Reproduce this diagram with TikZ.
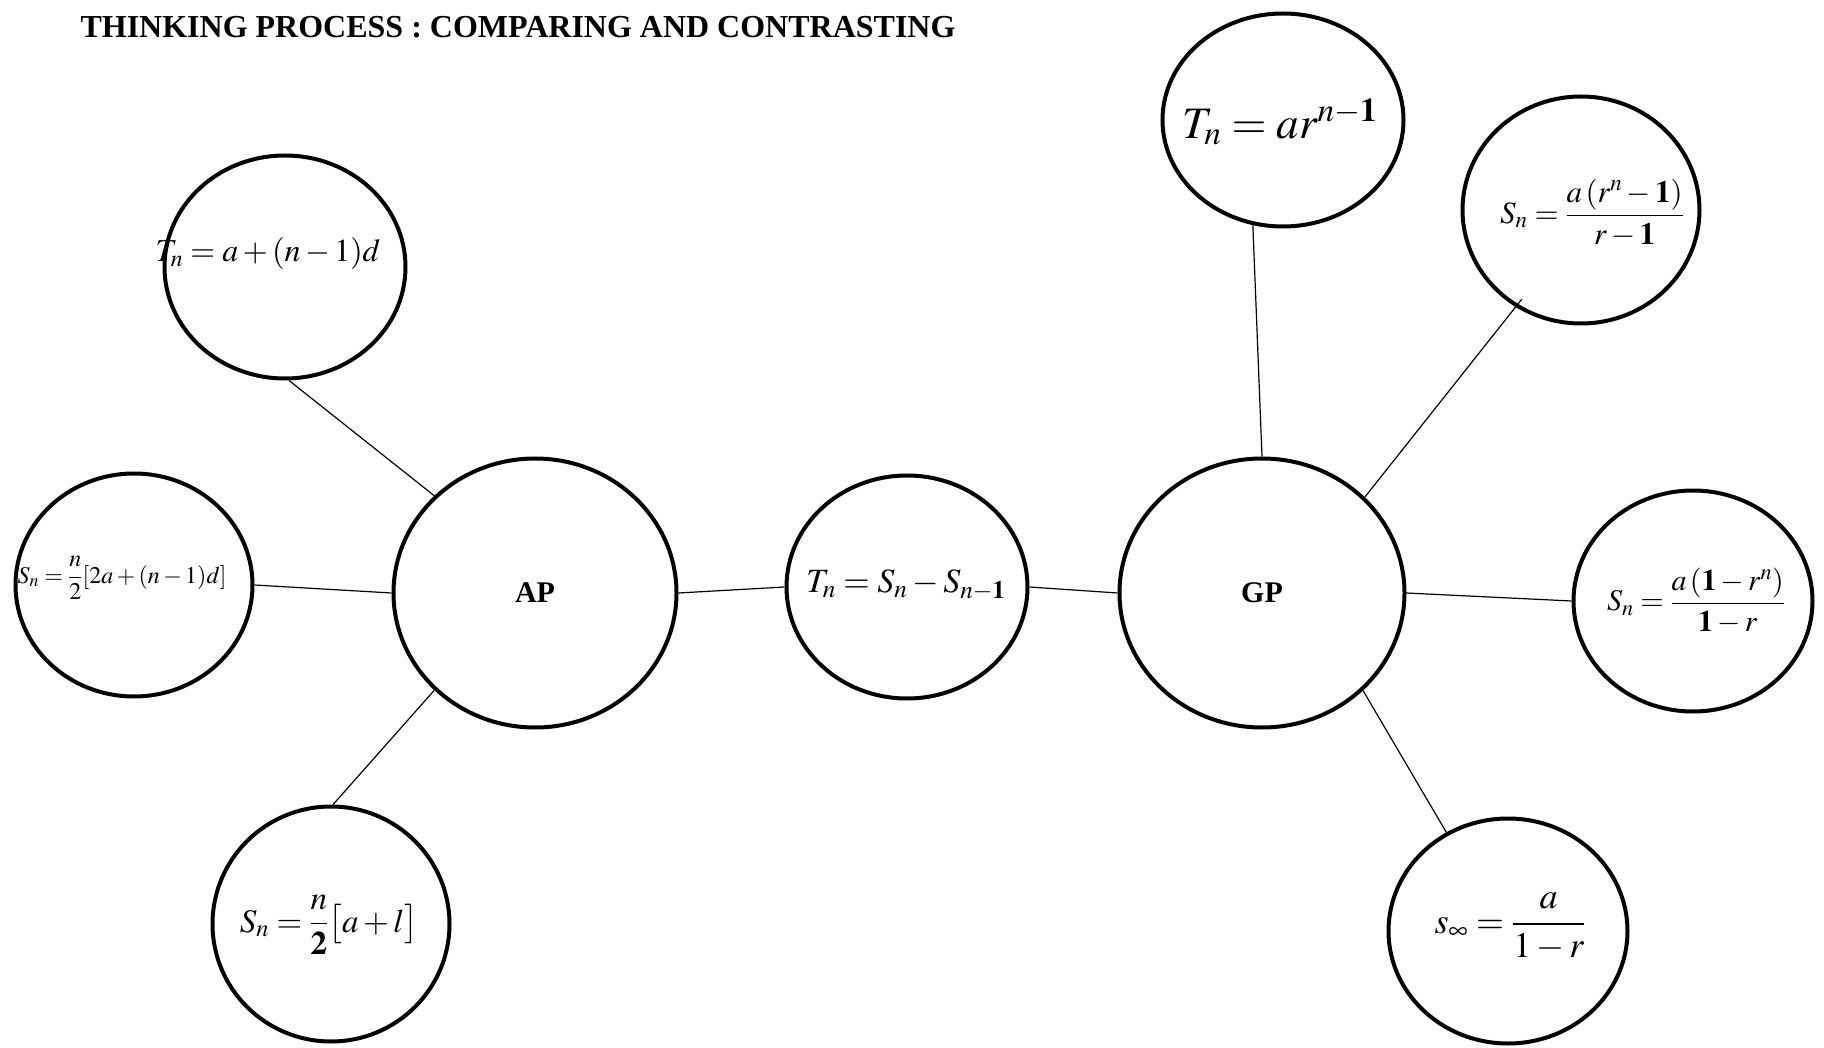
\documentclass[tikz,border=0pt]{standalone}
\usepackage{amsmath}
\usepackage{mathptmx}
\usepackage[no-math]{fontspec}
\setmainfont{Liberation Serif}
\usetikzlibrary{shapes.geometric}
\begin{document}
\begin{tikzpicture}[x=1pt,y=-1pt,
    bubble/.style={draw,ellipse,line width=4pt,inner sep=0pt},
    link/.style={line width=1.2pt},
    fsize/.style={font=\fontsize{#1}{#1}\selectfont},
    bsize/.style={font=\fontsize{#1}{#1}\selectfont\bfseries}]
  \useasboundingbox (0,0) rectangle (1824,1048);
  \node[anchor=base west,bsize=32] (title) at (77,38)
    {THINKING PROCESS : COMPARING AND CONTRASTING};
  \draw
    (285,267) node[bubble,minimum width=241pt,minimum height=223pt] (ta) {}
    (134,585) node[bubble,minimum width=237pt,minimum height=223pt] (sl) {}
    (535,593) node[bubble,minimum width=283pt,minimum height=269pt,bsize=30] (ap) {AP}
    (331,924) node[bubble,minimum width=237pt,minimum height=235pt] (sb) {}
    (907,587) node[bubble,minimum width=241pt,minimum height=223pt] (tm) {}
    (1262,593) node[bubble,minimum width=285pt,minimum height=269pt,bsize=30] (gp) {GP}
    (1283,120) node[bubble,minimum width=241pt,minimum height=213pt] (tg) {}
    (1581,210) node[bubble,minimum width=237pt,minimum height=227pt] (gs) {}
    (1693,601) node[bubble,minimum width=239pt,minimum height=221pt] (gr) {}
    (1508,931) node[bubble,minimum width=239pt,minimum height=225pt] (si) {};
  \node[fsize=32] (tatext) at (268,254) {$T_n = a+(n-1)d$};
  \node[fsize=24] (sltext) at (122,578) {$S_n = \dfrac{n}{2}[2a+(n-1)d]$};
  \node[fsize=33] (sbtext) at (329,925) {$S_n = \dfrac{n}{\mathbf{2}}\bigl[a+l\bigr]$};
  \node[fsize=34] (tmtext) at (906,585) {$T_n = S_n - S_{n-\mathbf{1}}$};
  \node[fsize=45] (tgtext) at (1280,122) {$T_n = ar^{n-\mathbf{1}}$};
  \node[fsize=31] (gstext) at (1592,213) {$S_n = \dfrac{a\left(r^n-\mathbf{1}\right)}{r-\mathbf{1}}$};
  \node[fsize=30] (grtext) at (1696,601) {$S_n = \dfrac{a\left(\mathbf{1}-r^n\right)}{\mathbf{1}-r}$};
  \node[fsize=36] (sitext) at (1510,927) {$s_\infty = \dfrac{a}{1-r}$};
  \begin{scope}[link]
    \draw (ap.136) to (ta.272);
    \draw (ap.west) to (sl.east);
    \draw (ap.224) to (sb.89);
    \draw (ap.east) to (tm.west);
    \draw (tm.east) to (gp.west);
    \draw (gp.north) to (tg.254);
    \draw[shorten >=-10pt] (gp.43) to (gs.236);
    \draw (gp.east) to (gr.west);
    \draw (gp.316) to (si.122);
  \end{scope}
\end{tikzpicture}
\end{document}
